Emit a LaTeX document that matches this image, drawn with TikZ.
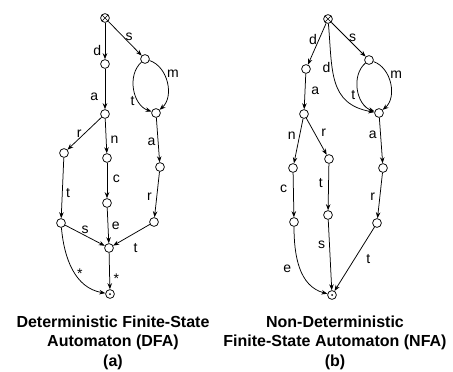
\documentclass[tikz,border=0pt]{standalone}
\usepackage{fontspec}
\setmainfont{Liberation Sans}
\usetikzlibrary{arrows.meta}
\begin{document}
\begin{tikzpicture}[x=1pt,y=1pt,
  st/.style={circle,draw,line width=0.75pt,minimum size=8.8pt,inner sep=0pt},
  startst/.style={st,path picture={\draw[line width=0.7pt]
      (path picture bounding box.north west)--(path picture bounding box.south east)
      (path picture bounding box.north east)--(path picture bounding box.south west);}},
  finalst/.style={st,path picture={\fill (path picture bounding box.center) circle (1pt);}},
  tr/.style={draw,line width=0.75pt,-{Stealth[length=6pt,width=4.5pt]}},
  lab/.style={font=\fontsize{14}{14}\selectfont,inner sep=0.5pt},
  captxt/.style={font=\bfseries\fontsize{16}{19.5}\selectfont,align=center,inner sep=0pt}]
\useasboundingbox (0,0) rectangle (453,-372);
% ---------- DFA ----------
\node[startst] (a0) at (105,-18) {};
\node[st] (a1) at (105,-64) {};
\node[st] (a2) at (145,-59) {};
\node[st] (a3) at (156,-113) {};
\node[st] (a4) at (105,-114) {};
\node[st] (a5) at (64,-153) {};
\node[st] (a6) at (107,-158) {};
\node[st] (a7) at (160,-167) {};
\node[st] (a8) at (107,-203) {};
\node[st] (a9) at (61,-223) {};
\node[st] (a10) at (154,-222) {};
\node[st] (a11) at (109,-248) {};
\node[finalst] (a12) at (110,-294) {};
\path[tr] (a0) -- node[lab,pos=.75,left=3pt] {d} (a1);
\path[tr] (a0) -- node[lab,pos=.45,right=1.5pt] {s} (a2);
\path[tr] (a2) to[bend right=60] node[lab,pos=.7,left=3pt] {t} (a3);
\path[tr] (a2) to[bend left=60] node[lab,pos=.35,right=2pt] {m} (a3);
\path[tr] (a1) -- node[lab,pos=.7,left=6pt] {a} (a4);
\path[tr] (a4) -- node[lab,pos=.5,left=2pt] {r} (a5);
\path[tr] (a4) -- node[lab,pos=.61,right=3.5pt] {n} (a6);
\path[tr] (a3) -- node[lab,pos=.55,left=1.8pt] {a} (a7);
\path[tr] (a5) -- node[lab,pos=.58,right=3pt] {t} (a9);
\path[tr] (a6) -- node[lab,pos=.46,right=5pt] {c} (a8);
\path[tr] (a7) -- node[lab,pos=.55,left=4pt] {r} (a10);
\path[tr] (a9) -- node[lab,pos=.5,above=1pt] {s} (a11);
\path[tr] (a8) -- node[lab,pos=.5,right=3pt] {e} (a11);
\path[tr] (a10) -- node[lab,pos=.6,below right=5pt] {t} (a11);
\path[tr] (a11) -- node[lab,pos=.72,right=3pt] {*} (a12);
\path[tr] (a9) to[out=-85,in=170] node[lab,pos=.55,right=1pt] {*} (a12);
% ---------- NFA ----------
\node[startst] (b0) at (328,-19) {};
\node[st] (b1) at (306,-69) {};
\node[st] (b2) at (369,-60) {};
\node[st] (b3) at (379,-113) {};
\node[st] (b4) at (304,-114) {};
\node[st] (b5) at (293,-168) {};
\node[st] (b6) at (329,-159) {};
\node[st] (b7) at (383,-168) {};
\node[st] (b8) at (294,-222) {};
\node[st] (b9) at (328,-215) {};
\node[st] (b10) at (377,-223) {};
\node[finalst] (b11) at (332,-295) {};
\path[tr] (b0) -- node[lab,pos=.4,left=1pt] {d} (b1);
\path[tr] (b0) -- node[lab,pos=.45,right=1.5pt] {s} (b2);
\path[tr] (b0) to[out=-85,in=170,looseness=1.2] node[lab,pos=.35,left=1pt] {d} (b3);
\path[tr] (b2) to[bend right=60] node[lab,pos=.6,left=3pt] {t} (b3);
\path[tr] (b2) to[bend left=60] node[lab,pos=.35,right=2pt] {m} (b3);
\path[tr] (b1) -- node[lab,pos=.49,right=5.5pt] {a} (b4);
\path[tr] (b4) -- node[lab,pos=.39,left=3pt] {n} (b5);
\path[tr] (b4) -- node[lab,pos=.4,right=6pt] {r} (b6);
\path[tr] (b3) -- node[lab,pos=.38,left=3pt] {a} (b7);
\path[tr] (b5) -- node[lab,pos=.36,left=5.5pt] {c} (b8);
\path[tr] (b6) -- node[lab,pos=.41,left=5pt] {t} (b9);
\path[tr] (b7) -- node[lab,pos=.53,left=4pt] {r} (b10);
\path[tr] (b8) to[out=-90,in=165] node[lab,pos=.5,left=8pt] {e} (b11);
\path[tr] (b9) -- node[lab,pos=.36,left=3.5pt] {s} (b11);
\path[tr] (b10) -- node[lab,pos=.5,right=11pt] {t} (b11);
% ---------- captions ----------
\node[captxt] (capA) at (113,-342.5) {Deterministic Finite-State\\Automaton (DFA)\\(a)};
\node[captxt] (capB) at (335,-342.5) {Non-Deterministic\\Finite-State Automaton (NFA)\\(b)};
\end{tikzpicture}
\end{document}
